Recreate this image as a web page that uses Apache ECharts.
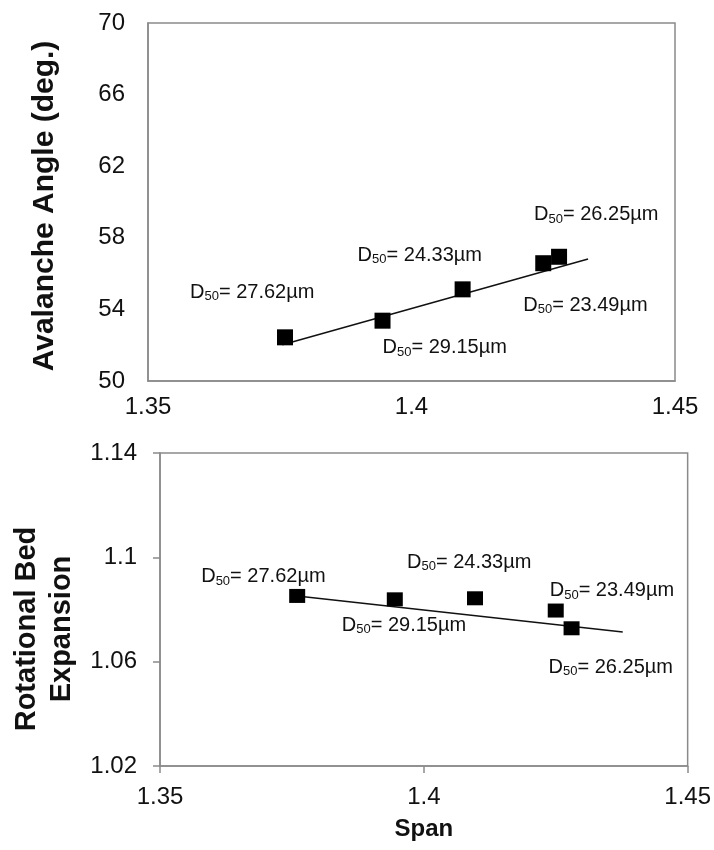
<!DOCTYPE html>
<html>
<head>
<meta charset="utf-8">
<script src="https://cdn.jsdelivr.net/npm/echarts@6/dist/echarts.min.js"></script>
<style>
  html, body { margin: 0; padding: 0; background: #fff; }
  #chart { width: 714px; height: 850px; }
</style>
</head>
<body>
<div id="chart"></div>
<script>
// Span of each powder sample (x) and its measured properties
const span = [1.376, 1.3945, 1.4097, 1.425, 1.428];
const d50 = ['27.62', '29.15', '24.33', '23.49', '26.25'];   // median particle size, µm
const avalancheAngle = [52.44, 53.37, 55.12, 56.58, 56.94];  // deg.
const bedExpansion = [1.0852, 1.0839, 1.0843, 1.0796, 1.0728];

// Linear trend line end points [x, y]
const angleTrend = [[1.3755, 52.03], [1.4335, 56.82]];
const expansionTrend = [[1.376, 1.0852], [1.4377, 1.0714]];

// Tick labels
const spanTicks = ['1.35', '1.4', '1.45'];
const angleTicks = ['50', '54', '58', '62', '66', '70'];
const expansionTicks = ['1.02', '1.06', '1.1', '1.14'];

// Label placement (px offset from the marker centre to the label's left / middle)
const angleLabelOffsets = [[-95, -45], [0, 27], [-105, -34], [-20, 42], [-25, -42]];
const expansionLabelOffsets = [[-96, -19], [-53, 26], [-68, -36], [-6, -20], [-23, 39]];

const FONT = "'Liberation Sans', Arial, sans-serif";
const TEXT = '#111';
const AXIS = '#8a8a8a';

const rich = {
  d: { fontSize: 20, fontFamily: FONT, color: TEXT },
  s: { fontSize: 13, fontFamily: FONT, color: TEXT, padding: [9, 0, 0, 0] }
};

function pointData(ys, offsets) {
  return span.map((x, i) => ({
    value: [x, ys[i]],
    label: { offset: offsets[i] }
  }));
}

function labelFmt(p) {
  return '{d|D}{s|50}{d|= ' + d50[p.dataIndex] + 'µm}';
}

function xAxisFor(gridIndex, showTicks, labelMargin, name) {
  return {
    type: 'value', gridIndex, min: 1.35, max: 1.45, interval: 0.05,
    axisLine: { show: true, lineStyle: { color: AXIS, width: 1.5 } },
    axisTick: { show: showTicks, length: 7, lineStyle: { color: AXIS, width: 1.5 } },
    splitLine: { show: false },
    axisLabel: {
      margin: labelMargin, fontSize: 24, fontFamily: FONT, color: TEXT,
      formatter: (v, i) => spanTicks[i]
    },
    name: name || '', nameLocation: 'middle', nameGap: 51,
    nameTextStyle: { fontSize: 24, fontWeight: 'bold', fontFamily: FONT, color: TEXT }
  };
}

const chart = echarts.init(document.getElementById('chart'), null, { renderer: 'canvas' });
chart.setOption({
  backgroundColor: '#fff',
  animation: false,
  grid: [
    { left: 148, top: 23, width: 527, height: 358, show: true, borderColor: AXIS, borderWidth: 1.5, backgroundColor: 'transparent' },
    { left: 160, top: 453, width: 529, height: 313, show: true, borderColor: AXIS, borderWidth: 1.5, backgroundColor: 'transparent' }
  ],
  xAxis: [
    xAxisFor(0, false, 14),
    xAxisFor(1, true, 19, 'Span')
  ],
  yAxis: [
    {
      type: 'value', gridIndex: 0, min: 50, max: 70, interval: 4,
      axisLine: { show: true, lineStyle: { color: AXIS, width: 1.5 } },
      axisTick: { show: false },
      splitLine: { show: false },
      axisLabel: {
        margin: 23, fontSize: 24, fontFamily: FONT, color: TEXT,
        formatter: (v, i) => angleTicks[i]
      },
      name: 'Avalanche Angle (deg.)', nameLocation: 'middle', nameGap: 88,
      nameTextStyle: { fontSize: 30, fontWeight: 'bold', fontFamily: FONT, color: TEXT, padding: [0, 8, 0, 0] }
    },
    {
      type: 'value', gridIndex: 1, min: 1.02, max: 1.14, interval: 0.04,
      axisLine: { show: true, lineStyle: { color: AXIS, width: 1.5 } },
      axisTick: { show: true, length: 7, lineStyle: { color: AXIS, width: 1.5 } },
      splitLine: { show: false },
      axisLabel: {
        margin: 23, fontSize: 24, fontFamily: FONT, color: TEXT,
        formatter: (v, i) => expansionTicks[i]
      },
      name: 'Rotational Bed\nExpansion', nameLocation: 'middle', nameGap: 81,
      nameTextStyle: { fontSize: 29, fontWeight: 'bold', fontFamily: FONT, color: TEXT, lineHeight: 35, padding: [0, 39, 0, 0] }
    }
  ],
  series: [
    {
      type: 'line', xAxisIndex: 0, yAxisIndex: 0, data: angleTrend,
      symbol: 'none', z: 1, lineStyle: { color: '#111', width: 1.5 }, silent: true
    },
    {
      type: 'scatter', xAxisIndex: 0, yAxisIndex: 0, z: 3,
      data: pointData(avalancheAngle, angleLabelOffsets),
      symbol: 'rect', symbolSize: 16, itemStyle: { color: '#000', opacity: 1 },
      label: { show: true, position: 'inside', align: 'left', verticalAlign: 'middle', formatter: labelFmt, rich }
    },
    {
      type: 'line', xAxisIndex: 1, yAxisIndex: 1, data: expansionTrend,
      symbol: 'none', z: 1, lineStyle: { color: '#111', width: 1.5 }, silent: true
    },
    {
      type: 'scatter', xAxisIndex: 1, yAxisIndex: 1, z: 3,
      data: pointData(bedExpansion, expansionLabelOffsets),
      symbol: 'rect', symbolSize: [16, 14], itemStyle: { color: '#000', opacity: 1 },
      label: { show: true, position: 'inside', align: 'left', verticalAlign: 'middle', formatter: labelFmt, rich }
    }
  ]
});
</script>
</body>
</html>
